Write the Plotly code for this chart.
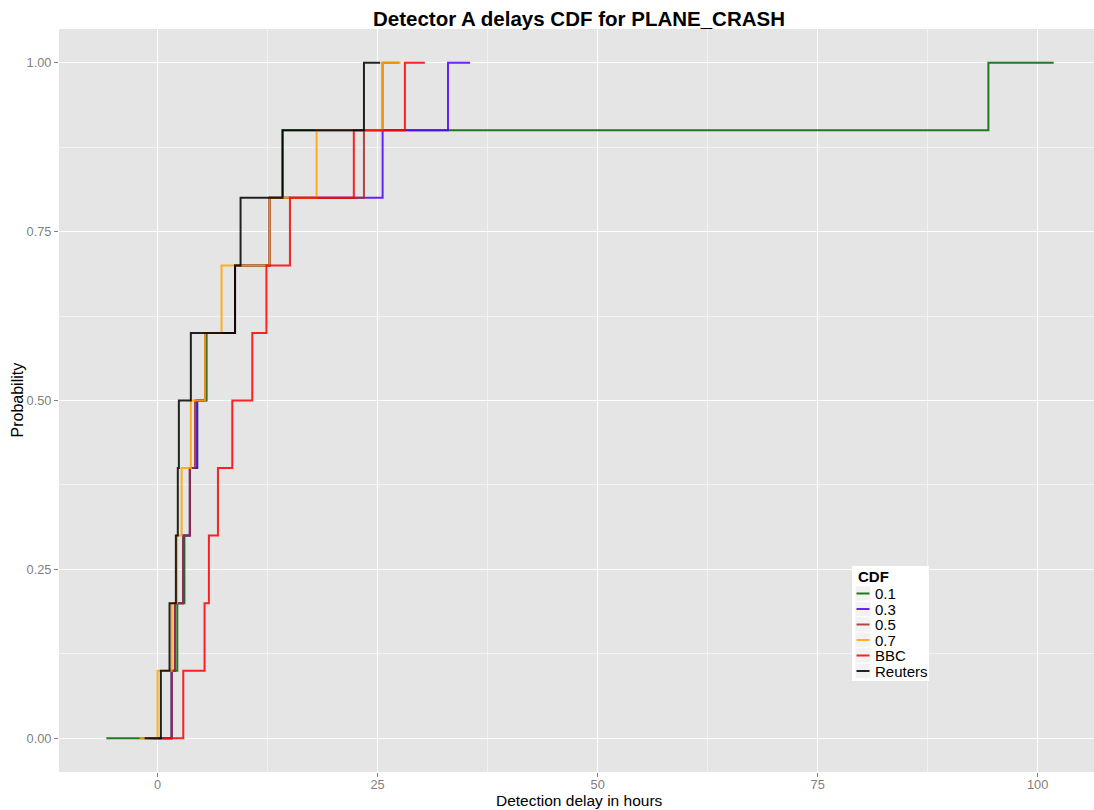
import numpy as np
import plotly.graph_objects as go

# Detection delays (hours) per detector threshold / news source
series_names = ["0.1", "0.3", "0.5", "0.7", "BBC", "Reuters"]
delays_01 = [1.6, 2.24, 3.05, 3.67, 4.5, 5.57, 8.8, 12.73, 14.2, 94.4]
delays_03 = [1.6, 1.97, 2.9, 3.67, 4.5, 5.4, 8.8, 12.73, 25.57, 33.0]
delays_05 = [1.6, 1.97, 2.9, 3.67, 4.25, 5.4, 8.8, 12.73, 23.45, 25.57]
delays_07 = [0.0, 1.6, 2.2, 2.73, 3.78, 5.4, 7.27, 12.73, 18.07, 25.57]
delays_bbc = [2.92, 5.34, 5.83, 6.86, 8.49, 10.76, 12.37, 15.04, 22.3, 28.1]
delays_reuters = [0.375, 1.36, 2.08, 2.3, 2.42, 3.78, 8.8, 9.43, 14.2, 23.45]
series_delays = [delays_01, delays_03, delays_05, delays_07, delays_bbc, delays_reuters]
series_colors = ["#006400", "#5200FF", "#A52A2A", "#FFA500", "#FF0000", "#000000"]

x_ticks = [0, 25, 50, 75, 100]
x_minor = [12.5, 37.5, 62.5, 87.5]
y_ticks = [0.0, 0.25, 0.5, 0.75, 1.0]
y_minor = [0.125, 0.375, 0.625, 0.875]

W, H = 1094, 810
ML, MR, MT, MB = 59, 0, 29, 38
LINE_ALPHA = 0.85


def ecdf_steps(values):
    """Empirical CDF with padding points like plot.stepfun."""
    xs = np.unique(np.asarray(values, dtype=float))
    ys = np.searchsorted(np.sort(values), xs, side="right") / len(values)
    rx = xs.max() - xs.min()
    dr = max(0.08 * rx, float(np.median(np.diff(xs))))
    x = np.concatenate([[xs.min() - dr], xs, [xs.max() + dr]])
    y = np.concatenate([[0.0], ys, [1.0]])
    return x, y


fig = go.Figure()
for name, vals, col in zip(series_names, series_delays, series_colors):
    x, y = ecdf_steps(vals)
    fig.add_trace(go.Scatter(
        x=x, y=y, mode="lines", name=name,
        line=dict(color=col, width=2, shape="hv"),
        opacity=LINE_ALPHA, showlegend=False,
    ))


def px_x(p):
    return (p - ML) / (W - ML - MR)


def px_y(p):
    return (H - MB - p) / (H - MT - MB)


shapes = []
annotations = []

# legend panel
lx0, lx1, ly0, ly1 = 852, 929, 566, 681
shapes.append(dict(type="rect", xref="paper", yref="paper",
                   x0=px_x(lx0), x1=px_x(lx1), y0=px_y(ly1), y1=px_y(ly0),
                   fillcolor="white", line=dict(width=0), layer="above"))
annotations.append(dict(text="<b>CDF</b>", xref="paper", yref="paper",
                        x=px_x(855.5), y=px_y(576), xanchor="left", yanchor="middle",
                        showarrow=False, font=dict(size=15, color="black")))
row_h = 15.5
row0 = 593.5
for i, (name, col) in enumerate(zip(series_names, series_colors)):
    cy = row0 + i * row_h
    shapes.append(dict(type="rect", xref="paper", yref="paper",
                       x0=px_x(855), x1=px_x(871), y0=px_y(cy + row_h / 2), y1=px_y(cy - row_h / 2),
                       fillcolor="#F2F2F2", line=dict(color="white", width=1), layer="above"))
    shapes.append(dict(type="line", xref="paper", yref="paper",
                       x0=px_x(856.5), x1=px_x(869.5), y0=px_y(cy), y1=px_y(cy),
                       line=dict(color=col, width=2), opacity=LINE_ALPHA, layer="above"))
    annotations.append(dict(text=name, xref="paper", yref="paper",
                            x=px_x(873), y=px_y(cy), xanchor="left", yanchor="middle",
                            showarrow=False, font=dict(size=15, color="black")))

# axis titles
annotations.append(dict(text="Detection delay in hours", xref="paper", yref="paper",
                        x=px_x(579), y=px_y(800.5), xanchor="center", yanchor="middle",
                        showarrow=False, font=dict(size=15.5, color="black")))
annotations.append(dict(text="Probability", xref="paper", yref="paper",
                        x=px_x(17), y=px_y(400.5), xanchor="center", yanchor="middle",
                        textangle=-90, showarrow=False, font=dict(size=16, color="black")))

fig.update_layout(
    width=W, height=H,
    margin=dict(l=ML, r=MR, t=MT, b=MB),
    paper_bgcolor="white",
    plot_bgcolor="#E5E5E5",
    font=dict(family="Liberation Sans, Arial, Helvetica, sans-serif"),
    title=dict(text="<b>Detector A delays CDF for PLANE_CRASH</b>",
               x=579 / W, xref="container", xanchor="center",
               y=1 - 19 / H, yref="container", yanchor="middle",
               font=dict(size=20.5, color="black")),
    shapes=shapes,
    annotations=annotations,
    xaxis=dict(range=[-11.2, 106.4], tickvals=x_ticks, ticktext=[str(v) for v in x_ticks],
               showgrid=True, gridcolor="white", gridwidth=1.2, zeroline=False,
               ticks="outside", ticklen=4, tickcolor="#7F7F7F", tickwidth=1,
               ticklabelstandoff=-3,
               tickfont=dict(size=12.8, color="#7F7F7F"), showline=False,
               minor=dict(tickvals=x_minor, showgrid=True, gridcolor="#F2F2F2", gridwidth=0.6, ticks="")),
    yaxis=dict(range=[-0.05, 1.05], tickvals=y_ticks, ticktext=[f"{v:.2f}" for v in y_ticks],
               showgrid=True, gridcolor="white", gridwidth=1.2, zeroline=False,
               ticks="outside", ticklen=4, tickcolor="#7F7F7F", tickwidth=1,
               tickfont=dict(size=12.8, color="#7F7F7F"), showline=False,
               minor=dict(tickvals=y_minor, showgrid=True, gridcolor="#F2F2F2", gridwidth=0.6, ticks="")),
)

fig.write_html("out.html")
